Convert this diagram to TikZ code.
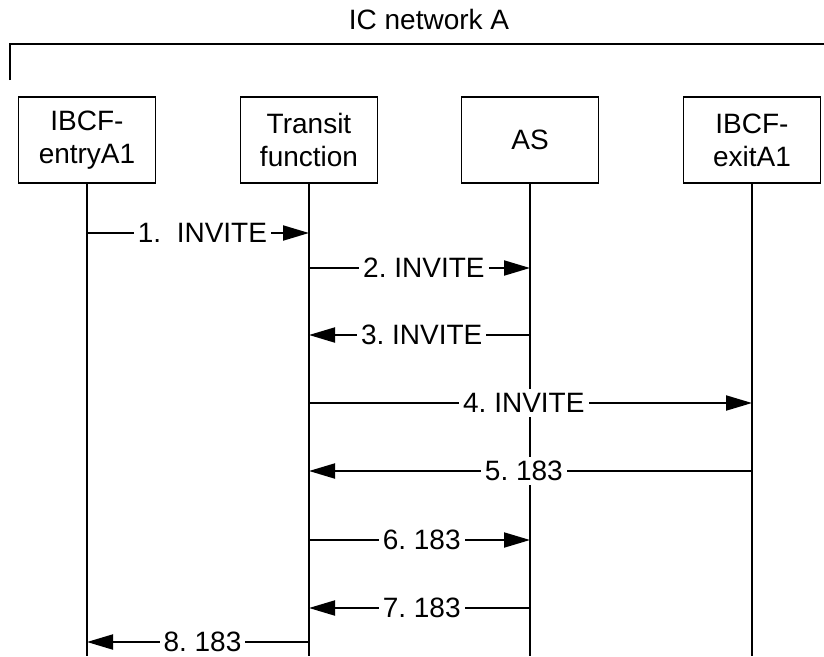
\documentclass[tikz,border=0pt]{standalone}
\usepackage{fontspec}
\setmainfont{Liberation Sans}
\usetikzlibrary{arrows.meta,positioning,calc}

\tikzset{
    entity/.style={draw, line width=1.4pt, minimum width=137pt, minimum height=86pt, align=center, inner sep=0pt},
    lifeline/.style={line width=1.4pt},
    msg/.style={line width=2pt, -{Triangle[length=26pt,width=15pt]}},
    lbl/.style={fill=white, inner sep=4pt}
}

\begin{document}
\begin{tikzpicture}[x=1pt, y=-1pt, font=\fontsize{28}{33}\selectfont\frenchspacing]
    \useasboundingbox (0,0) rectangle (824,656);

    % Network bracket
    \node (title) at (429,19) {IC network A};
    \draw[line width=1.4pt] (10,80) -- (10,44) -- (824,44);

    % Entities
    \node[entity] (entry) at (87,140) {IBCF-\\entryA1};
    \node[entity] (transit) at (309,140) {Transit\\function};
    \node[entity] (as) at (530,140) {AS};
    \node[entity] (exit) at (752,140) {IBCF-\\exitA1};

    % Lifelines
    \foreach \n in {entry,transit,as,exit}
        \draw[lifeline] (\n.south) -- (\n |- 0,656);

    % Messages
    \draw[msg] (entry |- 0,233) -- node[lbl, pos=0.52] {1.\ \ INVITE} (transit |- 0,233);
    \draw[msg] (transit |- 0,268) -- node[lbl, pos=0.52] {2. INVITE} (as |- 0,268);
    \draw[msg] (as |- 0,335) -- node[lbl, pos=0.49] {3. INVITE} (transit |- 0,335);
    \draw[msg] (transit |- 0,403) -- node[lbl, pos=0.485] {4. INVITE} (exit |- 0,403);
    \draw[msg] (exit |- 0,471) -- node[lbl, pos=0.515] {5. 183} (transit |- 0,471);
    \draw[msg] (transit |- 0,540) -- node[lbl, pos=0.51] {6. 183} (as |- 0,540);
    \draw[msg] (as |- 0,608) -- node[lbl, pos=0.49] {7. 183} (transit |- 0,608);
    \draw[msg] (transit |- 0,642) -- node[lbl, pos=0.48] {8. 183} (entry |- 0,642);
\end{tikzpicture}
\end{document}
